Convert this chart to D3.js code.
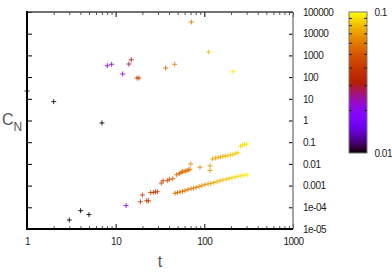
<!DOCTYPE html>
<html>
<head>
<meta charset="utf-8">
<script src="https://cdn.jsdelivr.net/npm/d3@7"></script>
<style>
  body { margin: 0; background: #fff; }
  svg text { font-family: "Liberation Sans", Arial, sans-serif; }
</style>
</head>
<body>
<div id="graph"></div>
<script>
// [t, C_N, colour value]
const blackPts = [[1.0, 23, 0.01], [2.0, 7.4, 0.01], [7.0, 0.77, 0.01], [3.0, 2.6e-5, 0.01], [4.03, 7.0e-5, 0.01], [5.0, 4.6e-5, 0.01]];

const scatterPts = [[8.05, 335, 0.019], [9.0, 389, 0.020], [12.0, 139, 0.019], [14.1, 400, 0.029], [15.0, 630, 0.030],
  [17.4, 91, 0.040], [18.3, 91, 0.041], [36.7, 263, 0.052], [46.3, 389, 0.063], [71.3, 34600, 0.060],
  [112, 1435, 0.079], [212, 177, 0.093], [13.1, 1.2e-4, 0.019]];

const upperBand = [[19.0, 1.8e-4, 0.040], [20.0, 3.7e-4, 0.041], [22.4, 2.0e-4, 0.040], [23.4, 2.0e-4, 0.041],
  [24.9, 4.8e-4, 0.042], [26.6, 4.8e-4, 0.043], [28.2, 5.2e-4, 0.043], [29.5, 5.2e-4, 0.044], [32.7, 1.3e-3, 0.046],
  [34.3, 1.68e-3, 0.047], [38.2, 1.68e-3, 0.049], [40.3, 1.95e-3, 0.050], [44.0, 2.08e-3, 0.052], [48.8, 3.18e-3, 0.054],
  [52.2, 3.53e-3, 0.055], [54.5, 4.0e-3, 0.056], [56.6, 4.4e-3, 0.057], [59, 4.5e-3, 0.057], [61.5, 4.7e-3, 0.058],
  [63.7, 5.0e-3, 0.059], [66.3, 5.3e-3, 0.060], [68.8, 5.6e-3, 0.061], [70.2, 9.9e-3, 0.063], [89.3, 7.0e-3, 0.066],
  [116, 8.1e-3, 0.070], [116, 5.0e-3, 0.070], [124, 1.68e-2, 0.071], [134, 1.87e-2, 0.072], [143, 2.0e-2, 0.074],
  [152, 2.1e-2, 0.075], [162, 2.2e-2, 0.077], [172, 2.3e-2, 0.078], [184, 2.4e-2, 0.080], [197, 2.6e-2, 0.081],
  [210, 2.7e-2, 0.083], [224, 3.0e-2, 0.085], [240, 3.3e-2, 0.087], [256, 0.065, 0.090], [270, 0.073, 0.091],
  [284, 0.078, 0.092], [299, 0.083, 0.094]];

const lowerBand = [[46.7, 4.4e-4, 0.055], [49.9, 4.8e-4, 0.056], [53.2, 5.1e-4, 0.057], [56.8, 5.4e-4, 0.058],
  [60.5, 5.9e-4, 0.059], [65.3, 6.6e-4, 0.060], [70.8, 7.2e-4, 0.061], [75.4, 7.7e-4, 0.062], [80.6, 8.2e-4, 0.063],
  [87.0, 9.1e-4, 0.064], [94.0, 1.0e-3, 0.066], [101.5, 1.1e-3, 0.067], [110, 1.19e-3, 0.069], [118.5, 1.27e-3, 0.071],
  [128, 1.38e-3, 0.073], [139, 1.5e-3, 0.075], [150, 1.68e-3, 0.077], [162, 1.8e-3, 0.079], [176, 1.95e-3, 0.081],
  [190, 2.13e-3, 0.083], [205, 2.28e-3, 0.085], [222, 2.49e-3, 0.087], [240, 2.69e-3, 0.089], [260, 2.82e-3, 0.091],
  [281, 2.98e-3, 0.093], [304, 3.18e-3, 0.095]];

const xTicks = [1, 10, 100, 1000];
const xTickLabels = ["1", "10", "100", "1000"];
const yTicks = [1e5, 1e4, 1e3, 100, 10, 1, 0.1, 0.01, 0.001, 1e-4, 1e-5];
const yTickLabels = ["100000", "10000", "1000", "100", "10", "1", "0.1", "0.01", "0.001", "1e-04", "1e-05"];
const cbDomain = [0.01, 0.1];
const cbLabels = ["0.01", "0.1"];

// gnuplot default palette (rgbformulae 7,5,15)
function palette(f) {
    const r = Math.sqrt(f), g = f * f * f, b = Math.max(0, Math.sin(2 * Math.PI * f));
    return d3.rgb(r * 255, g * 255, b * 255).formatHex();
}

const W = 392, H = 273;
const svg = d3.select("#graph").append("svg").attr("width", W).attr("height", H);

const x = d3.scaleLog().domain([1, 1000]).range([27, 293]);
const y = d3.scaleLog().domain([1e-5, 1e5]).range([229, 12]);
const cb = d3.scaleLog().domain(cbDomain).range([153, 12]);
const colour = z => palette(Math.max(0, Math.min(1, (Math.log10(z) - Math.log10(cbDomain[0])) / (Math.log10(cbDomain[1]) - Math.log10(cbDomain[0])))));

const minorX = x.ticks().filter(v => !xTicks.includes(v));

// x axes, ticks point inwards
function xAxes(g, axisFn, withLabels) {
    g.append("g").call(axisFn(x).tickValues(minorX).tickSizeInner(-3).tickSizeOuter(0).tickFormat(""))
        .call(a => a.selectAll("line").attr("stroke", "#555"));
    g.append("g").call(axisFn(x).tickValues(xTicks).tickSizeInner(-5).tickSizeOuter(0).tickPadding(9)
        .tickFormat((d, i) => withLabels ? xTickLabels[i] : ""));
}
const bottomAxis = svg.append("g").attr("transform", "translate(0,229)");
xAxes(bottomAxis, d3.axisBottom, true);
const topAxis = svg.append("g").attr("transform", "translate(0,12)");
xAxes(topAxis, d3.axisTop, false);

svg.append("g").attr("transform", "translate(27,0)")
    .call(d3.axisLeft(y).tickValues(yTicks).tickSizeInner(-5).tickSizeOuter(0).tickFormat(""));
svg.append("g").attr("transform", "translate(293,0)")
    .call(d3.axisRight(y).tickValues(yTicks).tickSizeInner(-4).tickSizeOuter(0).tickPadding(10)
        .tickFormat((d, i) => yTickLabels[i]));

svg.selectAll(".domain").remove();
svg.selectAll(".tick text").attr("font-size", 10).attr("letter-spacing", -0.5).attr("fill", "#222");

// frame
svg.append("line").attr("x1", 27).attr("x2", 293).attr("y1", 12).attr("y2", 12).attr("stroke", "#444").attr("stroke-width", 1.5);
svg.append("line").attr("x1", 293).attr("x2", 293).attr("y1", 12).attr("y2", 229).attr("stroke", "#888").attr("stroke-width", 1.5);
svg.append("line").attr("x1", 27).attr("x2", 27).attr("y1", 11).attr("y2", 230).attr("stroke", "#000").attr("stroke-width", 2);
svg.append("line").attr("x1", 26).attr("x2", 293).attr("y1", 229).attr("y2", 229).attr("stroke", "#000").attr("stroke-width", 2);

// points drawn as plus marks
function drawPlus(data) {
    svg.append("g").selectAll("path").data(data).join("path")
        .attr("d", d => `M${x(d[0]) - 2.5},${y(d[1])}h5M${x(d[0])},${y(d[1]) - 2.5}v5`)
        .attr("stroke", d => colour(d[2]))
        .attr("stroke-opacity", 0.85)
        .attr("stroke-width", 1)
        .attr("fill", "none");
}
drawPlus(blackPts);
drawPlus(scatterPts);
drawPlus(upperBand);
drawPlus(lowerBand);

// colour box
const defs = svg.append("defs");
const grad = defs.append("linearGradient").attr("id", "cbgrad").attr("x1", 0).attr("x2", 0).attr("y1", 1).attr("y2", 0);
d3.range(0, 1.0001, 0.025).forEach(f => grad.append("stop").attr("offset", f).attr("stop-color", palette(f)));
svg.append("rect").attr("x", 349).attr("y", 12).attr("width", 18).attr("height", 141)
    .attr("fill", "url(#cbgrad)").attr("stroke", "#777").attr("stroke-width", 1);
const cbMinor = cb.ticks().filter(v => v > cbDomain[0] && v < cbDomain[1]);
svg.append("g").selectAll("line").data(cbMinor).join("line")
    .attr("x1", 349).attr("x2", 352).attr("y1", d => cb(d)).attr("y2", d => cb(d)).attr("stroke", "#222");
svg.append("g").selectAll("line").data(cbMinor).join("line")
    .attr("x1", 364).attr("x2", 367).attr("y1", d => cb(d)).attr("y2", d => cb(d)).attr("stroke", "#222");
svg.append("g").selectAll("text").data(cbDomain).join("text")
    .attr("x", 374.5).attr("y", d => cb(d)).attr("dy", "0.35em")
    .attr("font-size", 10).attr("letter-spacing", -0.5).attr("fill", "#222")
    .text((d, i) => cbLabels[i]);

// axis titles
const ylab = svg.append("text").attr("x", 2).attr("y", 125).attr("font-size", 16).attr("fill", "#555")
    .attr("font-family", "DejaVu Sans").attr("font-weight", 300);
ylab.append("tspan").text("C");
ylab.append("tspan").attr("dy", 6).attr("font-size", 12).text("N");
svg.append("text").attr("x", 160).attr("y", 267).attr("text-anchor", "middle").attr("font-size", 16)
    .attr("fill", "#555").attr("font-family", "DejaVu Sans").text("t");
</script>
</body>
</html>
